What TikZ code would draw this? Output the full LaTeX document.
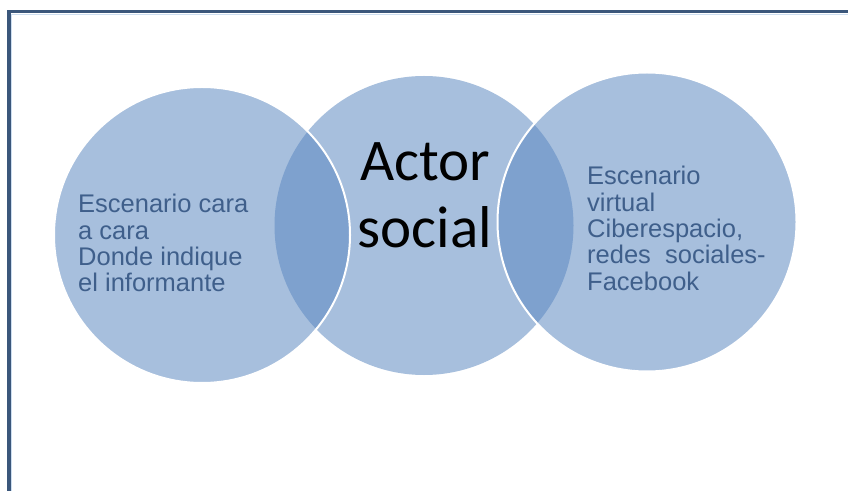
\documentclass[tikz,border=0pt]{standalone}
\usepackage{fontspec}
\setmainfont{Liberation Sans}
\newfontfamily\calib{Carlito}
\definecolor{circfill}{RGB}{167,191,221}
\definecolor{lensfill}{RGB}{126,161,206}
\definecolor{txtblue}{RGB}{63,95,139}
\definecolor{framecol}{RGB}{59,87,123}
\definecolor{frameinner}{RGB}{205,222,240}
\tikzset{
  circ/.style={fill=circfill, draw=none},
  outline/.style={draw=white, line width=2bp},
  sidetext/.style={inner sep=0pt, anchor=north west, align=left, text=txtblue,
    font=\fontsize{25.5bp}{26.4bp}\selectfont},
  centertext/.style={inner sep=0pt, anchor=north, align=center, text=black,
    font=\calib\fontsize{59bp}{67bp}\selectfont}
}
\begin{document}
\begin{tikzpicture}[x=1bp,y=-1bp]
\useasboundingbox (0,0) rectangle (848,491);
\fill[white] (0,0) rectangle (848,491);
% frame
\draw[frameinner, line width=1bp] (11.2,491) -- (11.2,14.2) -- (848,14.2);
\draw[framecol, line width=3.6bp] (8.8,491) -- (8.8,11.7) -- (848,11.7);
% circles
\coordinate (cl) at (202,235);
\coordinate (cm) at (424,225.5);
\coordinate (cr) at (647,222);
\fill[circ] (cl) circle[radius=148bp];
\fill[circ] (cm) circle[radius=149.5bp];
\fill[circ] (cr) circle[radius=149.5bp];
% lenses
\begin{scope}
  \clip (cl) circle[radius=148bp];
  \fill[lensfill] (cm) circle[radius=149.5bp];
\end{scope}
\begin{scope}
  \clip (cr) circle[radius=149.5bp];
  \fill[lensfill] (cm) circle[radius=149.5bp];
\end{scope}
% white outlines of outer circles
\draw[outline] (cl) circle[radius=148bp];
\draw[outline] (cr) circle[radius=149.5bp];
% texts
\node[sidetext] (tl) at (78,194) {Escenario cara\\a cara\\Donde indique\\el informante};
\node[centertext] (tm) at (425,142.5) {Actor\\social};
\node[sidetext] (tr) at (587,166) {Escenario\\virtual\\Ciberespacio,\\redes\ \ sociales-\\Facebook};
\end{tikzpicture}
\end{document}
